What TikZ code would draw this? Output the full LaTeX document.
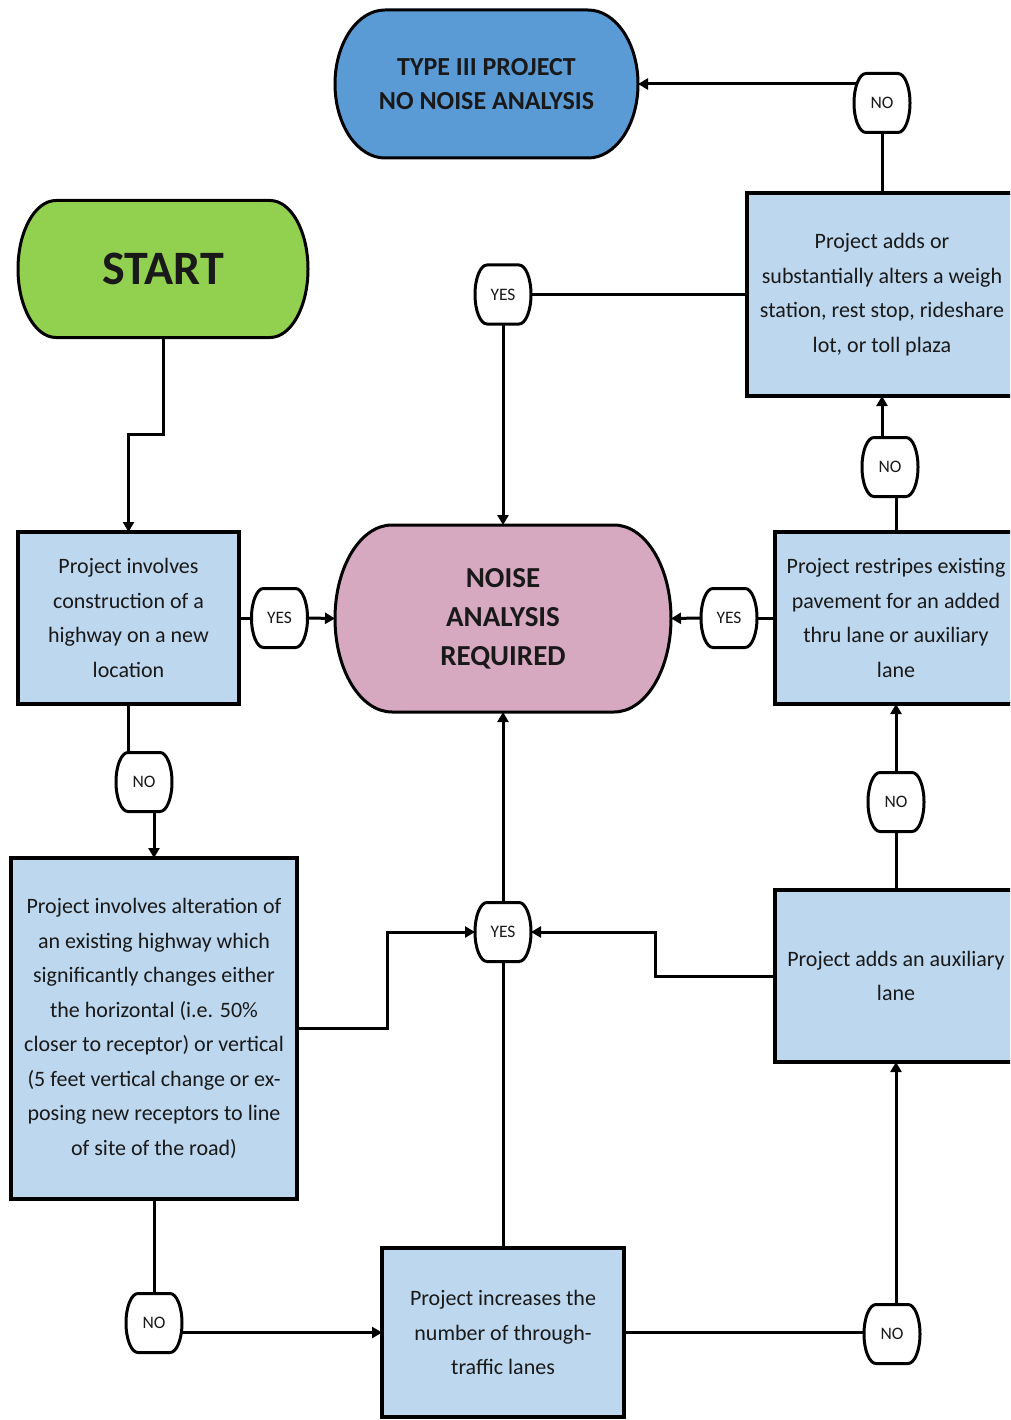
\documentclass[tikz,border=0pt]{standalone}
\usepackage{fontspec}
\setmainfont{Carlito}
\usetikzlibrary{arrows.meta,backgrounds,calc}
\definecolor{boxblue}{HTML}{BDD7EE}
\definecolor{termblue}{HTML}{5B9BD5}
\definecolor{termgreen}{HTML}{92D050}
\definecolor{termpink}{HTML}{D6A9C1}
\newcommand\termshape[4]{%
  \path[#4] ([xshift=#2]#1.north west) -- ([xshift=-#2]#1.north east)
    arc[start angle=90,end angle=-90,x radius=#2,y radius=#3]
    -- ([xshift=#2]#1.south west)
    arc[start angle=270,end angle=90,x radius=#2,y radius=#3] -- cycle;}
\begin{document}
\begin{tikzpicture}[x=1pt,y=1pt,
  procbox/.style={draw=black, line width=3.5pt, fill=boxblue, inner sep=0pt, outer sep=0pt,
    align=center, font=\fontsize{22}{34.5}\selectfont, text=black!90},
  termtext/.style={inner sep=0pt, outer sep=0pt, align=center, text=black!90,
    font=\bfseries\fontsize{26}{34}\selectfont},
  lbl/.style={inner sep=0pt, outer sep=0pt, minimum width=56pt, minimum height=59pt,
    font=\fontsize{17.5}{19}\selectfont, text=black!90},
  lblshape/.style={draw=black, line width=3pt, fill=white},
  termline/.style={draw=black, line width=3pt},
  conn/.style={line width=3pt},
  arr/.style={line width=3pt, -{Triangle[length=10pt,width=11pt]}}]
\useasboundingbox (0,0) rectangle (1010,-1420);
\clip (0,0) rectangle (1010,-1420);

% terminals
\node[termtext, minimum width=303pt, minimum height=148pt] (t3) at (486.5,-84) {TYPE III PROJECT\\NO NOISE ANALYSIS};
\node[termtext, font=\bfseries\fontsize{48}{52}\selectfont, minimum width=290pt, minimum height=137pt] (start) at (163,-269) {START};
\node[termtext, font=\bfseries\fontsize{29}{39}\selectfont, minimum width=336pt, minimum height=187pt] (noise) at (503,-618.5) {NOISE\\ANALYSIS\\REQUIRED};

% process boxes
\node[procbox, minimum width=221pt, minimum height=172pt] (box1) at (128.5,-618) {Project involves\\construction of a\\highway on a new\\location};
\node[procbox, minimum width=270pt, minimum height=203pt] (weigh) at (882,-294.5) {Project adds or\\substantially alters a weigh\\station, rest stop, rideshare\\lot, or toll plaza};
\node[procbox, minimum width=242pt, minimum height=172pt] (rest) at (896,-618) {Project restripes existing\\pavement for an added\\thru lane or auxiliary\\lane};
\node[procbox, minimum width=242pt, minimum height=172pt] (aux) at (896,-976) {Project adds an auxiliary\\lane};
\node[procbox, minimum width=286pt, minimum height=341pt] (alt) at (154,-1028.5) {Project involves alteration of\\an existing highway which\\significantly changes either\\the horizontal (i.e. 50\%\\closer to receptor) or vertical\\(5 feet vertical change or ex-\\posing new receptors to line\\of site of the road)};
\node[procbox, minimum width=242pt, minimum height=169pt] (inc) at (503,-1332.5) {Project increases the\\number of through-\\traffic lanes};

% labels
\node[lbl] (no7) at (882,-103) {NO};
\node[lbl] (yes4) at (503,-294.5) {YES};
\node[lbl] (no6) at (890,-467) {NO};
\node[lbl] (yes1) at (279.5,-618) {YES};
\node[lbl] (yes2) at (729,-618) {YES};
\node[lbl] (no1) at (144,-782) {NO};
\node[lbl] (no5) at (896,-802) {NO};
\node[lbl] (yes3) at (503,-932) {YES};
\node[lbl] (no3) at (154,-1323) {NO};
\node[lbl] (no4) at (892,-1334) {NO};

\begin{scope}[on background layer]
  \termshape{t3}{50pt}{74pt}{termline, fill=termblue}
  \termshape{start}{38pt}{68.5pt}{termline, fill=termgreen}
  \termshape{noise}{57pt}{93.5pt}{termline, fill=termpink}
  \foreach \n in {no7,yes4,no6,yes1,yes2,no1,no5,yes3,no3,no4}
    {\termshape{\n}{12pt}{29.5pt}{lblshape}}
\end{scope}

% connectors
\draw[arr] (start.south) -- ++(0,-97) -| (box1.north);
\draw[conn] (box1.east) -- (yes1.west);
\draw[arr] (yes1.east) -- (noise.west);
\draw[conn] (box1.south) -- (box1.south |- no1.north);
\draw[arr] (alt.north |- no1.south) -- (alt.north);
\draw[arr] (alt.east) -- ++(90,0) |- (yes3.west);
\draw[arr] (aux.west) -- ++(-120,0) |- (yes3.east);
\draw[arr] (yes3.north) -- (noise.south);
\draw[conn] (inc.north) -- (yes3.south);
\draw[conn] (alt.south) -- (no3.north);
\draw[arr] (no3.east |- inc.west) -- (inc.west);
\draw[conn] (inc.east) -- (no4.west |- inc.east);
\draw[arr] (aux.south |- no4.north) -- (aux.south);
\draw[conn] (aux.north) -- (no5.south);
\draw[arr] (no5.north) -- (rest.south);
\draw[conn] (rest.north) -- (rest.north |- no6.south);
\draw[arr] (weigh.south |- no6.north) -- (weigh.south);
\draw[conn] (rest.west) -- (yes2.east);
\draw[arr] (yes2.west) -- (noise.east);
\draw[conn] (weigh.west) -- (yes4.east);
\draw[arr] (yes4.south) -- (noise.north);
\draw[conn] (weigh.north) -- (no7.south);
\draw[arr] ($(no7.west |- t3.east)+(3,0)$) -- (t3.east);
\end{tikzpicture}
\end{document}
